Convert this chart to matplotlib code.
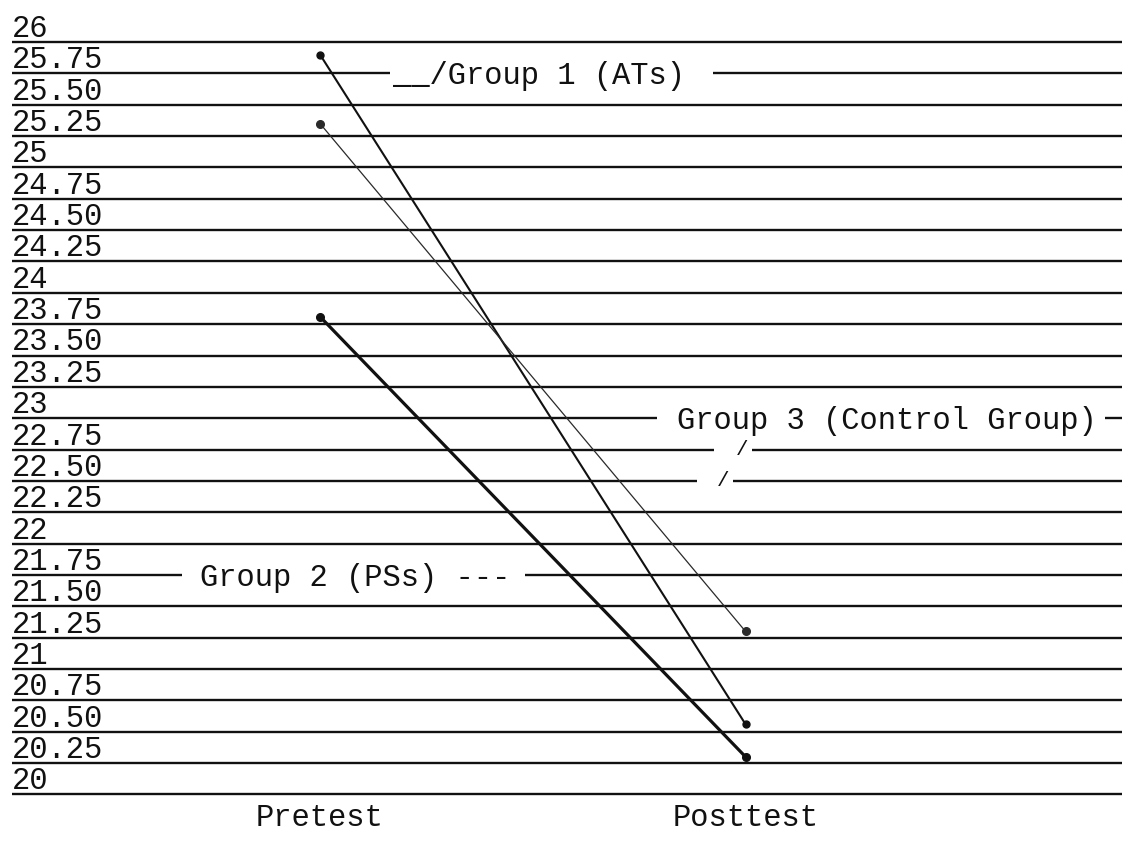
import matplotlib.pyplot as plt
import matplotlib.transforms as mtransforms

# scale rows typed on the sheet, top to bottom
tick_values = [26, 25.75, 25.50, 25.25, 25, 24.75, 24.50, 24.25, 24, 23.75, 23.50, 23.25,
               23, 22.75, 22.50, 22.25, 22, 21.75, 21.50, 21.25, 21, 20.75, 20.50, 20.25, 20]
tick_labels = ['26', '25.75', '25.50', '25.25', '25', '24.75', '24.50', '24.25', '24',
               '23.75', '23.50', '23.25', '23', '22.75', '22.50', '22.25', '22', '21.75',
               '21.50', '21.25', '21', '20.75', '20.50', '20.25', '20']

tests = ['Pretest', 'Posttest']
g1_scores = [25.90, 20.56]   # Group 1 (ATs)
g2_scores = [23.81, 20.30]   # Group 2 (PSs)
g3_scores = [25.35, 21.30]   # Group 3 (Control Group)

W, H = 1122, 854
ink = '#111111'
mono = 'Liberation Mono'

fig = plt.figure(figsize=(W / 100, H / 100), dpi=100)
fig.set_facecolor('white')
ax = fig.add_axes([0, 0, 1, 1])
ax.set_axis_off()

# pixel layout: Pretest at x=320, Posttest at x=745; rule for 26 at y=43, 125.4 px per unit
x0, dx = 320, 425.5
y0, dy = 43, 125.4
ax.set_xlim((0 - x0) / dx, (W - x0) / dx)
ax.set_ylim(26 - (H - y0) / dy, 26 + y0 / dy)

def fx(px):
    return px / W

ytrans = ax.get_yaxis_transform()

# gaps where the group names were typed over the rules (pixel spans)
gaps = {25.75: [(390, 713)], 23: [(657, 1105)], 22.75: [(714, 752)],
        22.50: [(697, 733)], 21.75: [(182, 525)]}

for v, lab in zip(tick_values, tick_labels):
    segs = [12]
    for a, b in gaps.get(v, []):
        segs += [a, b]
    segs.append(W)
    for a, b in zip(segs[::2], segs[1::2]):
        ax.plot([fx(a), fx(b)], [v, v], transform=ytrans, color=ink, lw=1.7,
                solid_capstyle='butt', zorder=1)
    ax.text(fx(12), v, lab, transform=mtransforms.offset_copy(ytrans, fig=fig, y=6, units='dots'),
            ha='left', va='baseline', fontsize=22, family=mono, color=ink)

# connecting lines
xs = [0, 1]
ax.plot(xs, g1_scores, color=ink, lw=1.5, marker='o', ms=5, zorder=3)
ax.plot(xs, g2_scores, color=ink, lw=2.3, marker='o', ms=5.5, zorder=3)
ax.plot(xs, g3_scores, color='#2a2a2a', lw=0.9, marker='o', ms=5.5, zorder=3)

# typed group names
lab_tr = mtransforms.offset_copy(ytrans, fig=fig, y=-10, units='dots')
ax.text(fx(393), 25.75, '__/Group 1 (ATs)', transform=lab_tr, ha='left', va='baseline',
        fontsize=22, family=mono, color=ink)
ax.text(fx(200), 21.75, 'Group 2 (PSs) ---', transform=lab_tr, ha='left', va='baseline',
        fontsize=22, family=mono, color=ink)
ax.text(fx(677), 23, 'Group 3 (Control Group)', transform=lab_tr, ha='left', va='baseline',
        fontsize=22, family=mono, color=ink)
slash_tr = mtransforms.offset_copy(ytrans, fig=fig, y=1, units='dots')
ax.text(fx(742), 22.75, '/', transform=slash_tr, ha='center', va='center',
        fontsize=15, family=mono, color=ink)
ax.text(fx(723), 22.50, '/', transform=slash_tr, ha='center', va='center',
        fontsize=15, family=mono, color=ink)

# test names under the sheet
xtrans = ax.get_xaxis_transform()
for x, name in zip(xs, tests):
    ax.text(x, 1 - 818 / H, name, transform=xtrans, ha='center', va='center',
            fontsize=22, family=mono, color=ink)

fig.savefig('out.png', dpi=100)
